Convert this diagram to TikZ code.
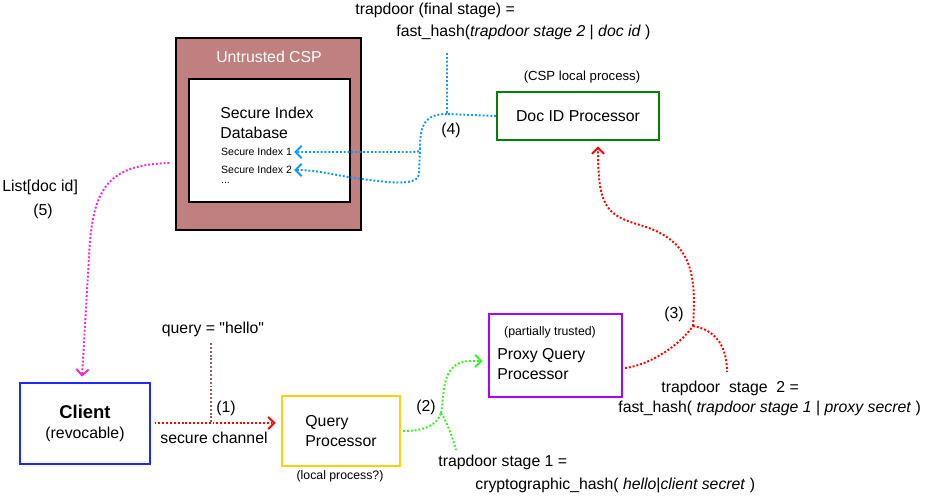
\documentclass[tikz,border=0pt]{standalone}
\usepackage{fontspec}
\setmainfont{Liberation Sans}
\usetikzlibrary{arrows.meta}
\definecolor{cspfill}{RGB}{192,128,128}
\definecolor{docgreen}{RGB}{0,128,0}
\definecolor{qpyellow}{RGB}{255,210,0}
\definecolor{proxyviolet}{RGB}{170,0,255}
\definecolor{clientblue}{RGB}{30,40,255}
\definecolor{flowblue}{RGB}{20,150,255}
\definecolor{flowgreen}{RGB}{60,240,40}
\definecolor{flowpink}{RGB}{255,40,200}
\definecolor{flowbrown}{RGB}{160,90,90}
\begin{document}
\begin{tikzpicture}[x=0.02cm, y=-0.02cm, font=\fontsize{9}{11}\selectfont,
    box/.style={draw, line width=1.2pt, inner sep=0pt},
    small/.style={font=\fontsize{7}{8}\selectfont},
    flow/.style={line width=1.1pt, dash pattern=on 1.1pt off 1.1pt},
    tip/.style={-{Straight Barb[length=3.5pt,width=7pt]}}]
      \useasboundingbox (0,0) rectangle (930,497);
      %%% untrusted CSP with its index database
      \node[box, draw=black, line width=1.6pt, fill=cspfill, minimum width=3.7cm, minimum height=3.84cm] (csp) at (268.5,134) {};
      \node[text=white] (csptitle) at (269,57) {Untrusted CSP};
      \node[box, draw=black, fill=white, minimum width=3.22cm, minimum height=2.46cm] (db) at (269.5,140.5) {};
      \node[anchor=west, align=left, inner sep=0pt] (dbtitle) at (220,123) {Secure Index\\Database};
      \node[anchor=west, inner sep=1pt, font=\fontsize{6}{7}\selectfont] (si1) at (219,152) {Secure Index 1};
      \node[anchor=west, inner sep=1pt, font=\fontsize{6}{7}\selectfont] (si2) at (219,170) {Secure Index 2};
      \node[anchor=west, inner sep=1pt, font=\fontsize{6}{7}\selectfont] (dots) at (219,183) {...};

      %%% processes
      \node[box, draw=docgreen, minimum width=3.24cm, minimum height=0.96cm] (docid) at (578,116) {Doc ID Processor};
      \node[font=\fontsize{7.5}{9}\selectfont] (docnote) at (582,77) {(CSP local process)};
      \node[box, draw=clientblue, minimum width=2.6cm, minimum height=1.62cm, align=center] (client) at (85,423.5) {\textbf{\fontsize{10.5}{13}\selectfont Client}\\(revocable)};
      \node[box, draw=qpyellow, minimum width=2.36cm, minimum height=1.4cm, align=left] (query) at (341,431) {Query\\Processor};
      \node[small] (querynote) at (340,476) {(local process?)};
      \node[box, draw=proxyviolet, minimum width=2.66cm, minimum height=1.66cm] (proxy) at (555.5,355.5) {};
      \node[small] (proxynote) at (550,332) {(partially trusted)};
      \node[anchor=west, align=left, inner sep=0pt] (proxytext) at (497,364) {Proxy Query\\Processor};

      %%% labels
      \node[anchor=west, inner sep=0pt] (final1) at (355,10) {trapdoor (final stage) =};
      \node[anchor=west, inner sep=0pt] (final2) at (396,32) {fast\_hash(\textit{trapdoor stage 2} | \textit{doc id} )};
      \node[anchor=west, inner sep=0pt] (list) at (2,187) {List[doc id]};
      \node (five) at (43,211) {(5)};
      \node (four) at (451,130) {(4)};
      \node (hello) at (213,329) {query = \textquotedbl hello\textquotedbl};
      \node (one) at (226,408) {(1)};
      \node (channel) at (214,438) {secure channel};
      \node (two) at (426,407) {(2)};
      \node[anchor=west, inner sep=0pt] (stage1a) at (438,462) {trapdoor stage 1 =};
      \node[anchor=west, inner sep=0pt] (stage1b) at (475,485) {cryptographic\_hash( \textit{hello}|\textit{client secret} )};
      \node (three) at (674,314) {(3)};
      \node[anchor=west, inner sep=0pt] (stage2a) at (661,388) {trapdoor~ stage~ 2 =};
      \node[anchor=west, inner sep=0pt] (stage2b) at (618,408) {fast\_hash( \textit{trapdoor stage 1} | \textit{proxy secret}~)};

      %%% junctions and free ends
      \coordinate (j4) at (447,114);
      \coordinate (t4) at (447,53);
      \coordinate (hellotop) at (211,343);
      \coordinate (helloend) at (211,422);
      \coordinate (j2) at (441,413);
      \coordinate (e2) at (456,450);
      \coordinate (j3) at (693,326);
      \coordinate (e3) at (727,372);

      %%% (1) client -> query processor
      \draw[flow, color=flowbrown] (hellotop) -- (helloend);
      \draw[flow, tip, color=red] ([xshift=2pt]client.east |- 0,423) -- ([xshift=-3pt]query.west |- 0,423);
      %%% (2) query processor -> proxy
      \draw[flow, color=flowgreen] (query.east) ++(2,0) .. controls (425,431) and (437,425) .. (j2);
      \draw[flow, tip, color=flowgreen] (j2) .. controls (445,395) and (440,362) .. (470,361) -- ([xshift=-3pt]proxy.west |- 0,361);
      \draw[flow, color=flowgreen] (j2) .. controls (447,422) and (452,436) .. (e2);
      %%% (3) proxy -> doc id processor
      \draw[flow, color=red] (proxy.east |- 0,368) ++(2,0) .. controls (650,365) and (680,345) .. (j3);
      \draw[flow, tip, color=red] (j3) .. controls (697,270) and (690,240) .. (640,225) .. controls (605,215) and (598,205) .. ([yshift=-3pt]docid.south -| 598,0);
      \draw[flow, color=red] (j3) .. controls (715,330) and (727,345) .. (e3);
      %%% (4) doc id processor -> secure indexes
      \draw[flow, color=flowblue] (t4) -- (j4) -- (docid.west);
      \draw[flow, tip, color=flowblue] (j4) .. controls (425,114) and (420,125) .. (420,148) .. controls (420,152) .. (405,152) -- (si1.east);
      \draw[flow, tip, color=flowblue] (420,148) -- (419,174) .. controls (418,184) and (400,184) .. (370,180) .. controls (335,176) and (320,170) .. (si2.east);
      %%% (5) CSP -> client
      \draw[flow, tip, color=flowpink] ([xshift=-3pt]csp.west |- 0,163) .. controls (110,165) and (92,185) .. (89,257) -- ([yshift=3pt]client.north -| 82,0);
    \end{tikzpicture}
\end{document}
